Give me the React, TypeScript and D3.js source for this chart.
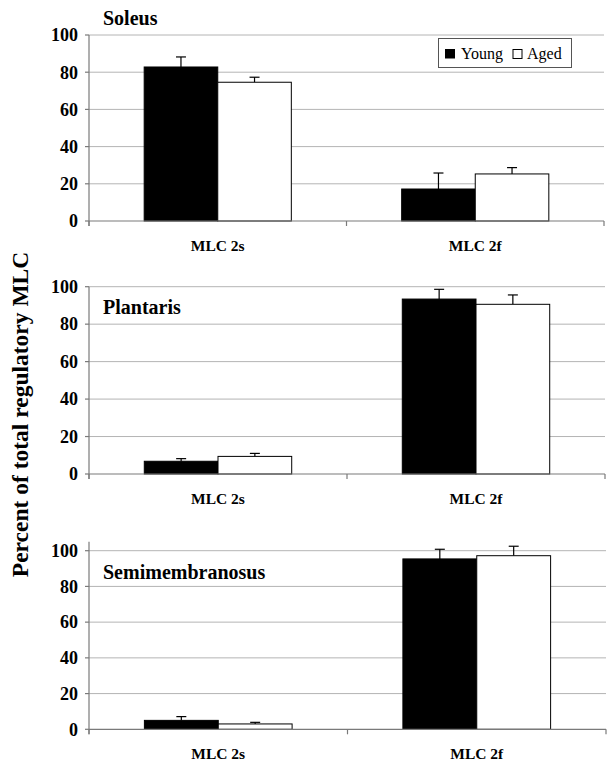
import React from "react";
import * as d3 from "d3";

const categories = ["MLC 2s", "MLC 2f"];
const seriesNames = ["Young", "Aged"];
const muscles = ["Soleus", "Plantaris", "Semimembranosus"];
const youngValues = [
  [82.8, 17.2],
  [6.8, 93.4],
  [5.0, 95.4],
];
const youngErrors = [
  [5.4, 8.6],
  [1.4, 5.2],
  [2.1, 5.4],
];
const agedValues = [
  [74.6, 25.3],
  [9.4, 90.6],
  [3.0, 97.2],
];
const agedErrors = [
  [2.7, 3.4],
  [1.6, 5.0],
  [0.9, 5.3],
];
const yTicks = [0, 20, 40, 60, 80, 100];
const yMaxes = [100, 100, 105];
const yAxisTitle = "Percent of total regulatory MLC";

const FONT = "'Liberation Serif', 'Times New Roman', Times, serif";

// layout per panel: [y at 0, y at 100, x right, title baseline]
const layouts = [
  { y0: 221, y100: 35, xR: 604, titleY: 25 },
  { y0: 474, y100: 286.7, xR: 605, titleY: 313.5 },
  { y0: 729.3, y100: 550.7, xR: 606, titleY: 579 },
];
const xL = 89;

function Panel({ idx }: { idx: number }) {
  const L = layouts[idx];
  const y = d3.scaleLinear().domain([0, 100]).range([L.y0, L.y100]);
  const x = d3.scaleBand().domain(categories).range([xL, L.xR]).padding(0);
  const bw = x.bandwidth() / 3.5;
  const inner = d3
    .scaleBand()
    .domain(seriesNames)
    .range([-bw, bw])
    .padding(0);
  const vals = [youngValues[idx], agedValues[idx]];
  const errs = [youngErrors[idx], agedErrors[idx]];
  const fills = ["#000", "#fff"];
  const yTop = y(yMaxes[idx]);
  const boundaries = [xL, ...categories.map((c) => (x(c) as number) + x.bandwidth())];
  return (
    <g>
      {yTicks.slice(1).map((t) => (
        <line key={t} x1={xL} x2={L.xR} y1={y(t)} y2={y(t)} stroke="#b4b4b4" strokeWidth={1} />
      ))}
      {categories.map((c, ci) =>
        seriesNames.map((s, si) => {
          const cx = (x(c) as number) + x.bandwidth() / 2 + (inner(s) as number);
          const v = vals[si][ci];
          const e = errs[si][ci];
          const mid = cx + inner.bandwidth() / 2;
          return (
            <g key={c + s}>
              <line x1={mid} x2={mid} y1={y(v)} y2={y(v + e)} stroke="#000" strokeWidth={1.2} />
              <line x1={mid - 5} x2={mid + 5} y1={y(v + e)} y2={y(v + e)} stroke="#000" strokeWidth={1.2} />
              <rect
                x={cx}
                y={y(v)}
                width={inner.bandwidth()}
                height={y(0) - y(v)}
                fill={fills[si]}
                stroke="#000"
                strokeWidth={1}
              />
            </g>
          );
        })
      )}
      {/* axes */}
      <line x1={xL} x2={xL} y1={yTop} y2={L.y0 + 5} stroke="#7a7a7a" strokeWidth={1.2} />
      <line x1={xL} x2={L.xR} y1={L.y0} y2={L.y0} stroke="#7a7a7a" strokeWidth={1.2} />
      {yTicks.map((t) => (
        <g key={t}>
          <line x1={xL - 4} x2={xL} y1={y(t)} y2={y(t)} stroke="#7a7a7a" strokeWidth={1.2} />
          <text
            x={78}
            y={y(t)}
            dy="0.35em"
            textAnchor="end"
            fontFamily={FONT}
            fontWeight="bold"
            fontSize={18}
          >
            {t}
          </text>
        </g>
      ))}
      {boundaries.map((b, i) => (
        <line key={i} x1={b} x2={b} y1={L.y0} y2={L.y0 + 5} stroke="#7a7a7a" strokeWidth={1.2} />
      ))}
      {categories.map((c) => (
        <text
          key={c}
          x={(x(c) as number) + x.bandwidth() / 2}
          y={L.y0 + 30}
          textAnchor="middle"
          fontFamily={FONT}
          fontWeight="bold"
          fontSize={15.5}
        >
          {c}
        </text>
      ))}
      <text x={103} y={L.titleY} fontFamily={FONT} fontWeight="bold" fontSize={20}>
        {muscles[idx]}
      </text>
    </g>
  );
}

export default function App() {
  return (
    <svg
      width={613}
      height={770}
      style={{ position: "absolute", left: 0, top: 0, background: "#fff" }}
    >
      <rect x={0} y={0} width={613} height={770} fill="#fff" />
      {muscles.map((m, i) => (
        <Panel key={m} idx={i} />
      ))}
      <text
        transform={`translate(28,414.5) rotate(-90)`}
        textAnchor="middle"
        fontFamily={FONT}
        fontWeight="bold"
        fontSize={23.5}
      >
        {yAxisTitle}
      </text>
      {/* legend */}
      <g>
        <rect x={438.5} y={38.5} width={133} height={29} fill="#fff" stroke="#555" strokeWidth={1} />
        <rect x={445} y={49} width={10} height={9.5} fill="#000" />
        <text x={461} y={58.5} fontFamily={FONT} fontSize={16}>
          {seriesNames[0]}
        </text>
        <rect x={513} y={49.5} width={9} height={9} fill="#fff" stroke="#000" strokeWidth={1} />
        <text x={527} y={58.5} fontFamily={FONT} fontSize={16}>
          {seriesNames[1]}
        </text>
      </g>
    </svg>
  );
}
